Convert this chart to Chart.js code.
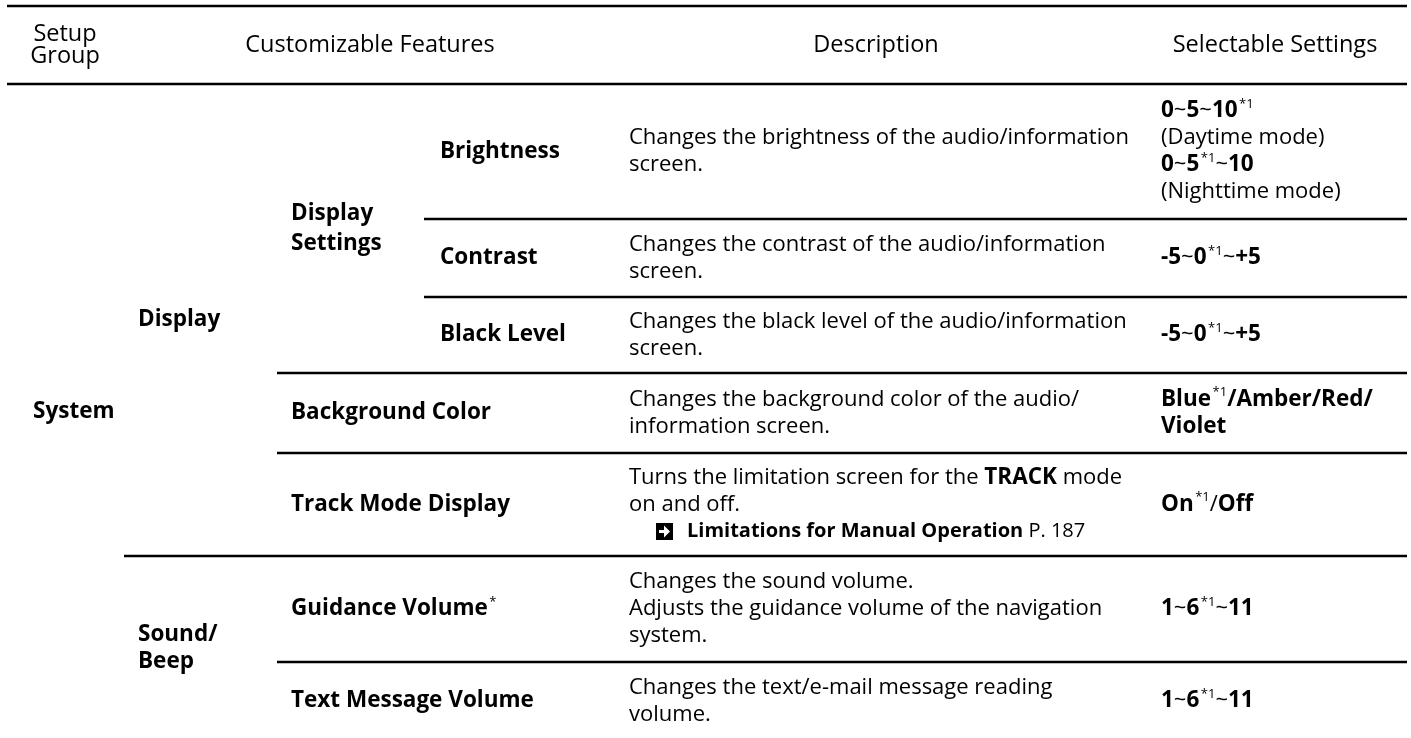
<!DOCTYPE html>
<html>
<head>
<meta charset="utf-8">
<script src="https://cdn.jsdelivr.net/npm/chart.js@4/dist/chart.umd.min.js"></script>
<style>
  html, body { margin: 0; padding: 0; background: #fff; }
  canvas { display: block; }
</style>
</head>
<body>
<canvas id="table" width="1411" height="738"></canvas>
<script>
// table content. {..} = bold, ^..^ = superscript, @ = arrow icon (cross reference line)
const headers = ['Setup\nGroup', 'Customizable Features', 'Description', 'Selectable Settings'];
const setupGroups = ['System'];
const groups = ['Display', 'Sound/\nBeep'];
const subGroups = ['Display\nSettings'];
const features = ['Brightness', 'Contrast', 'Black Level', 'Background Color',
  'Track Mode Display', 'Guidance Volume^*^', 'Text Message Volume'];
const descriptions = [
  ['Changes the brightness of the audio/information', 'screen.'],
  ['Changes the contrast of the audio/information', 'screen.'],
  ['Changes the black level of the audio/information', 'screen.'],
  ['Changes the background color of the audio/', 'information screen.'],
  ['Turns the limitation screen for the {TRACK} mode', 'on and off.', '@{Limitations for Manual Operation} P. 187'],
  ['Changes the sound volume.', 'Adjusts the guidance volume of the navigation', 'system.'],
  ['Changes the text/e-mail message reading', 'volume.']
];
const settings = [
  ['{0}~{5}~{10}^*1^', '(Daytime mode)', '{0}~{5}^*1^~{10}', '(Nighttime mode)'],
  ['{-5}~{0}^*1^~{+5}'],
  ['{-5}~{0}^*1^~{+5}'],
  ['{Blue}^*1^{/Amber/Red/}', '{Violet}'],
  ['{On}^*1^/{Off}'],
  ['{1}~{6}^*1^~{11}'],
  ['{1}~{6}^*1^~{11}']
];
// which group / sub group each feature row belongs to (-1 = none)
const groupOf = [0, 0, 0, 0, 0, 1, 1];
const subGroupOf = [0, 0, 0, -1, -1, -1, -1];

// layout (page units)
const headerTop = 6, headerBottom = 84;
const rowEdges = [84, 219, 297, 373, 453, 556, 662, 740];
const tableLeft = 7, tableRight = 1407;
const levelX = [33, 138, 291, 440];      // text start for each nesting level
const ruleX = [7, 124, 277, 424];        // rule start for each nesting level
const descX = 629, valueX = 1161;
const headerCx = [65, 370, 876, 1275];
const FONT = '"Open Sans", "Noto Sans", sans-serif';
const size = 22, boldSize = 22.5, headSize = 23.5, supSize = 13, linkSize = 20;
const lineH = 27, headLineH = 22;
const ink = '#000';

// rule lines become line datasets
const rules = [
  { y: headerTop, x0: tableLeft },
  { y: headerBottom, x0: tableLeft }
];
for (let i = 1; i < features.length; i++) {
  let level;
  if (groupOf[i] !== groupOf[i - 1]) level = 1;
  else if (subGroupOf[i] !== -1 && subGroupOf[i] === subGroupOf[i - 1]) level = 3;
  else level = 2;
  rules.push({ y: rowEdges[i], x0: ruleX[level] });
}
const datasets = rules.map(r => ({
  data: [{ x: r.x0, y: r.y }, { x: tableRight, y: r.y }],
  showLine: true,
  borderColor: ink,
  borderWidth: 2.5,
  pointRadius: 0,
  fill: false
}));

function parse(str) {
  return str.split(/(\{[^}]*\}|\^[^^]*\^|@)/).filter(s => s.length).map(s => {
    if (s === '@') return { icon: true };
    if (s[0] === '{') return { text: s.slice(1, -1), bold: true };
    if (s[0] === '^') return { text: s.slice(1, -1), sup: true };
    return { text: s };
  });
}
let curSize = size, curBold = boldSize;
function fontOf(seg) {
  if (seg.sup) return supSize + 'px ' + FONT;
  if (seg.bold) return 'bold ' + curBold + 'px ' + FONT;
  return curSize + 'px ' + FONT;
}
function segWidth(ctx, seg) {
  if (seg.icon) return 58;
  ctx.font = fontOf(seg);
  return ctx.measureText(seg.text).width + (seg.sup ? 1.5 : 0);
}
function drawIcon(ctx, x, y) {
  const s = 17;
  ctx.fillStyle = ink;
  ctx.fillRect(x, y - s / 2, s, s);
  ctx.fillStyle = '#fff';
  ctx.beginPath();
  ctx.moveTo(x + 3, y - 1.6);
  ctx.lineTo(x + 8, y - 1.6);
  ctx.lineTo(x + 8, y - 6);
  ctx.lineTo(x + 14, y);
  ctx.lineTo(x + 8, y + 6);
  ctx.lineTo(x + 8, y + 1.6);
  ctx.lineTo(x + 3, y + 1.6);
  ctx.closePath();
  ctx.fill();
}
function drawLine(ctx, str, x, y, center) {
  const segs = parse(str);
  const saved = [curSize, curBold];
  if (segs[0].icon) { curSize = linkSize; curBold = linkSize; }
  if (center) x -= segs.reduce((w, s) => w + segWidth(ctx, s), 0) / 2;
  for (const seg of segs) {
    if (seg.icon) { drawIcon(ctx, x + 27, y); x += 58; continue; }
    ctx.font = fontOf(seg);
    ctx.fillStyle = ink;
    ctx.fillText(seg.text, x + (seg.sup ? 1.5 : 0), seg.sup ? y - 7 : y);
    x += segWidth(ctx, seg);
  }
  [curSize, curBold] = saved;
}
function drawBlock(ctx, lines, x, yMid, lh, center) {
  const y0 = yMid - (lines.length - 1) * lh / 2;
  lines.forEach((l, i) => drawLine(ctx, l, x, y0 + i * lh, center));
}

const tableText = {
  id: 'tableText',
  afterDatasetsDraw(chart) {
    const ctx = chart.ctx, sx = chart.scales.x, sy = chart.scales.y;
    const px = v => sx.getPixelForValue(v), py = v => sy.getPixelForValue(v);
    const mid = (a, b) => py((a + b) / 2);
    ctx.save();
    ctx.textBaseline = 'middle';
    ctx.textAlign = 'left';
    // header
    curSize = headSize;
    headers.forEach((h, i) => {
      drawBlock(ctx, h.split('\n'), px(headerCx[i]), mid(headerTop, headerBottom), headLineH, true);
    });
    curSize = size;
    // setup group spans all rows
    drawBlock(ctx, ['{' + setupGroups[0] + '}'], px(levelX[0]), mid(rowEdges[0], rowEdges[rowEdges.length - 1]), lineH);
    // groups
    groups.forEach((g, gi) => {
      const rows = groupOf.map((v, i) => v === gi ? i : -1).filter(i => i >= 0);
      const a = rowEdges[rows[0]], b = rowEdges[rows[rows.length - 1] + 1];
      drawBlock(ctx, g.split('\n').map(t => '{' + t + '}'), px(levelX[1]), mid(a, b), lineH);
    });
    subGroups.forEach((g, gi) => {
      const rows = subGroupOf.map((v, i) => v === gi ? i : -1).filter(i => i >= 0);
      const a = rowEdges[rows[0]], b = rowEdges[rows[rows.length - 1] + 1];
      drawBlock(ctx, g.split('\n').map(t => '{' + t + '}'), px(levelX[2]), mid(a, b), 30);
    });
    features.forEach((f, i) => {
      const m = mid(rowEdges[i], rowEdges[i + 1]);
      const lx = subGroupOf[i] >= 0 ? levelX[3] : levelX[2];
      drawBlock(ctx, [f.replace(/^([^^]+)/, '{$1}')], px(lx), m, lineH);
      drawBlock(ctx, descriptions[i], px(descX), m, lineH);
      drawBlock(ctx, settings[i], px(valueX), m, lineH);
    });
    ctx.restore();
  }
};

new Chart(document.getElementById('table'), {
  type: 'scatter',
  data: { datasets: datasets },
  options: {
    responsive: false,
    devicePixelRatio: 1,
    animation: false,
    layout: { padding: 0 },
    scales: {
      x: { type: 'linear', min: 0, max: 1411, display: false },
      y: { type: 'linear', min: 0, max: 738, reverse: true, display: false }
    },
    plugins: {
      legend: { display: false },
      tooltip: { enabled: false }
    }
  },
  plugins: [tableText]
});
</script>
</body>
</html>
